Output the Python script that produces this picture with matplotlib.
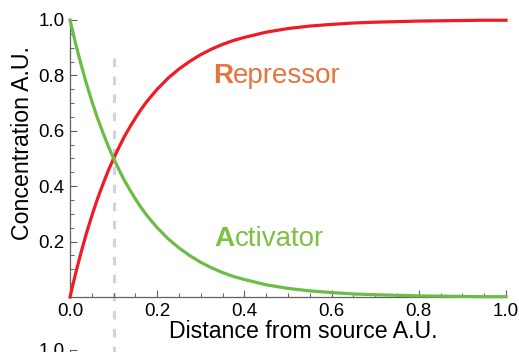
import numpy as np
import matplotlib as mpl
import matplotlib.pyplot as plt
from matplotlib.ticker import MultipleLocator

mpl.rcParams['font.family'] = ['Liberation Sans', 'DejaVu Sans']

# values
distance = [0.0, 0.0125, 0.025, 0.0375, 0.05, 0.0625, 0.075, 0.0875, 0.1,
            0.1125, 0.125, 0.1375, 0.15, 0.1625, 0.175, 0.1875, 0.2, 0.225,
            0.25, 0.275, 0.3, 0.325, 0.35, 0.375, 0.4, 0.45, 0.5, 0.55, 0.6,
            0.65, 0.7, 0.75, 0.8, 0.85, 0.9, 0.95, 1.0]
activator = [1.0, 0.917, 0.841, 0.771, 0.707, 0.648, 0.595, 0.545, 0.5,
             0.459, 0.42, 0.386, 0.354, 0.324, 0.297, 0.273, 0.25, 0.21,
             0.177, 0.149, 0.125, 0.105, 0.088, 0.074, 0.063, 0.044, 0.031,
             0.022, 0.016, 0.011, 0.008, 0.006, 0.004, 0.003, 0.002, 0.001,
             0.001]
repressor = [0.0, 0.083, 0.159, 0.229, 0.293, 0.352, 0.405, 0.455, 0.5,
             0.541, 0.58, 0.614, 0.646, 0.676, 0.703, 0.727, 0.75, 0.79,
             0.823, 0.851, 0.875, 0.895, 0.912, 0.926, 0.937, 0.956, 0.969,
             0.978, 0.984, 0.989, 0.992, 0.994, 0.996, 0.997, 0.998, 0.999,
             0.999]
marker_x = 0.1
xticks = [0.0, 0.2, 0.4, 0.6, 0.8, 1.0]
yticks = [0.2, 0.4, 0.6, 0.8, 1.0]

gray = '#606060'
fig = plt.figure(figsize=(5.19, 3.52), dpi=100)
ax = fig.add_axes([0.1349, 0.1563, 0.8401, 0.787])

ax.plot([marker_x, marker_x], [0.863, -0.2], color='#d4d0ec', lw=2.2,
        dashes=(2.8, 3.1), clip_on=False, zorder=1)
ax.plot(distance, repressor, color='#ee1c25', lw=2.3, clip_on=False, zorder=3)
ax.plot(distance, activator, color='#6cbd45', lw=2.3, clip_on=False, zorder=3)


def label(x, y, first, rest, color):
    t = ax.text(x, y, first, color=color, fontsize=20, fontweight='bold',
                va='baseline')
    ax.annotate(rest, xy=(1, 0), xycoords=t, color=color, fontsize=20,
                va='bottom', ha='left')


label(0.328, 0.773, 'R', 'epressor', '#e8743b')
label(0.332, 0.183, 'A', 'ctivator', '#7cc142')

ax.set_xlim(0, 1)
ax.set_ylim(0, 1)

for s in ['top', 'right']:
    ax.spines[s].set_visible(False)
for s in ['left', 'bottom']:
    ax.spines[s].set_color(gray)
    ax.spines[s].set_linewidth(0.9)

ax.set_xticks(xticks)
ax.set_yticks(yticks)
ax.set_xticklabels(['%.1f' % t for t in xticks])
ax.set_yticklabels(['%.1f' % t for t in yticks])
ax.xaxis.set_minor_locator(MultipleLocator(0.05))
ax.yaxis.set_minor_locator(MultipleLocator(0.05))
ax.tick_params(which='major', direction='in', length=5, width=0.8, color=gray,
               labelsize=13.5, pad=4)
ax.tick_params(which='minor', direction='in', length=3, width=0.7, color=gray)
ax.set_xlabel('Distance from source A.U.', fontsize=16.7)
ax.set_ylabel('Concentration A.U.', fontsize=16.7)
ax.xaxis.set_label_coords(0.5356, -0.083)
ax.yaxis.set_label_coords(-0.083, 0.556)

# partly visible panel underneath
ax2 = fig.add_axes([0.1349, -0.5, 0.8401, 0.5057])
ax2.set_ylim(0, 1)
ax2.set_xticks([])
ax2.set_yticks([1.0])
ax2.set_yticklabels(['1.0'])
for s in ['top', 'right', 'bottom']:
    ax2.spines[s].set_visible(False)
ax2.spines['left'].set_color(gray)
ax2.tick_params(direction='in', length=5, color=gray, labelsize=13.5, pad=4)
ax2.patch.set_visible(False)

fig.savefig('out.png', dpi=100)
